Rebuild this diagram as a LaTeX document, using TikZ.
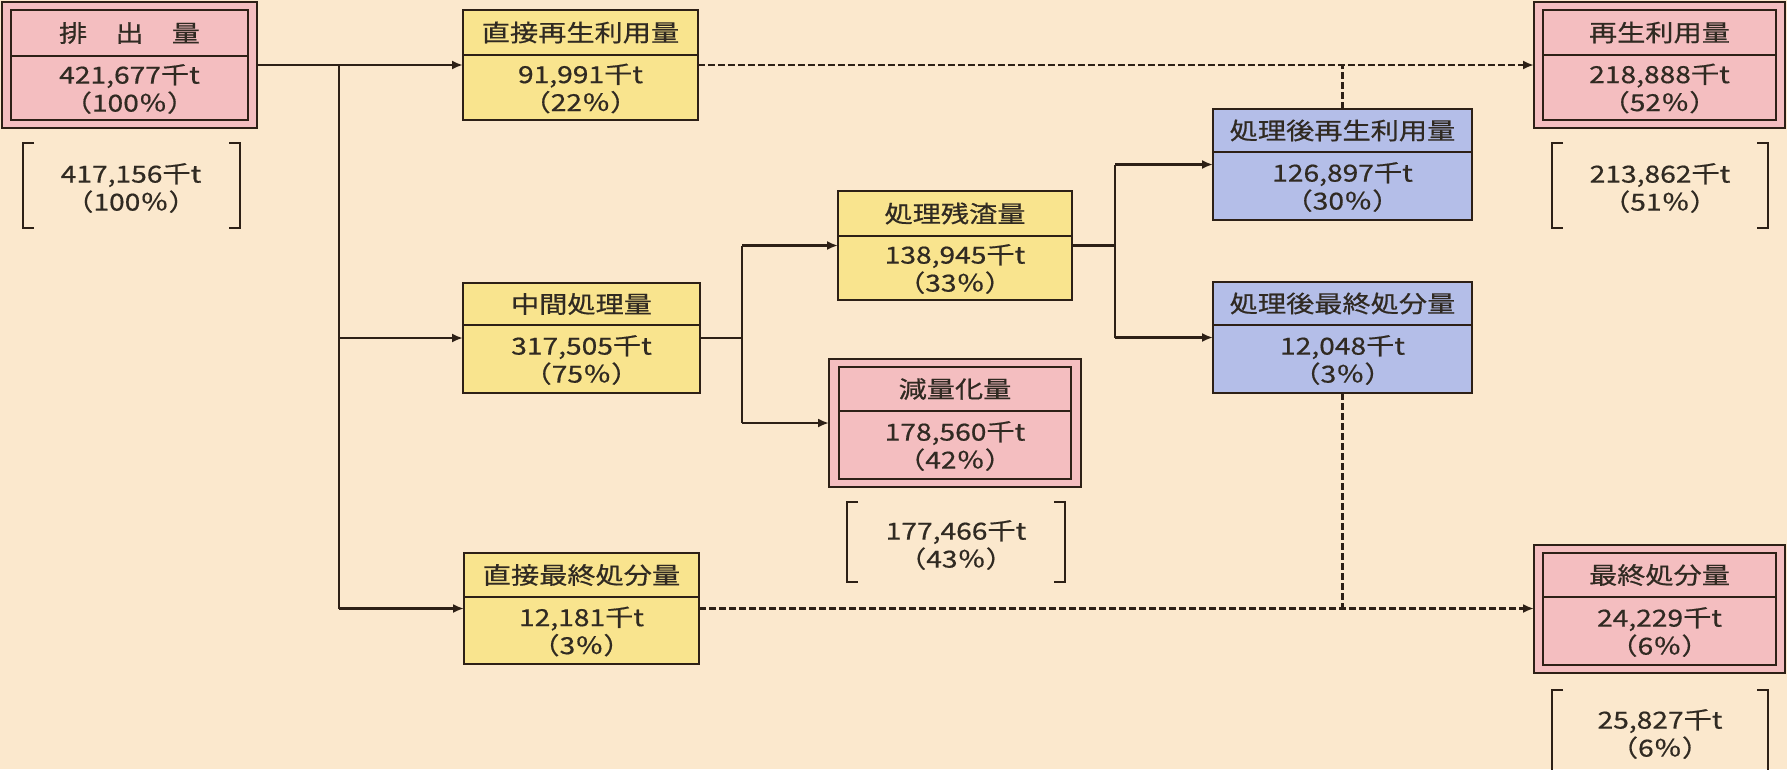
\documentclass[tikz,border=0pt]{standalone}
\usepackage{fontspec}
\setmainfont{Noto Sans CJK JP}[FakeStretch=1.2,FakeBold=0.6]
\usetikzlibrary{arrows.meta}
\definecolor{bgc}{RGB}{251,232,205}
\definecolor{yelc}{RGB}{249,228,142}
\definecolor{pinkc}{RGB}{244,190,192}
\definecolor{bluec}{RGB}{180,190,232}
\definecolor{linec}{RGB}{45,32,22}
\definecolor{txtc}{RGB}{48,42,34}
\tikzset{
  boxline/.style={draw=linec, line width=2.3pt},
  ybox/.style={boxline, fill=yelc},
  pbox/.style={boxline, fill=pinkc},
  bbox/.style={boxline, fill=bluec},
  conn/.style={draw=linec, line width=2.3pt},
  arr/.style={conn, -{Latex[length=11pt,width=9pt]}},
  dconn/.style={draw=linec, line width=2.3pt, dash pattern=on 7pt off 3pt},
  darr/.style={dconn, -{Latex[length=11pt,width=9pt]}},
  brk/.style={draw=linec, line width=2.3pt},
  txt/.style={text=txtc, font=\fontsize{23.5}{28}\selectfont, inner sep=0pt, align=center},
}
\newcommand{\FlowBox}[9]{%
  \node[#2, minimum width={#5-#3}, minimum height={#6-#4}, inner sep=0pt, outer sep=0pt] (#1) at ({(#3+#5)/2},{(#4+#6)/2}) {};
  \draw[boxline] (#3,#7) -- (#5,#7);
  \node[txt] (#1-t) at ({(#3+#5)/2},{(#4+#7)/2}) {#8};
  \node[txt] (#1-n) at ({(#3+#5)/2},{(#7+#6)/2+1}) {#9};
}
\begin{document}
\begin{tikzpicture}[x=1pt,y=-1pt]
\fill[bgc] (0,0) rectangle (1787,769);
\useasboundingbox (0,0) rectangle (1787,769);

% outer frames of double boxes
\node[pbox, minimum width=255, minimum height=126, inner sep=0pt, outer sep=0pt] (emis) at (129.5,65) {};
\node[pbox, minimum width=252, minimum height=128, inner sep=0pt, outer sep=0pt] (red) at (955,423) {};
\node[pbox, minimum width=251, minimum height=126, inner sep=0pt, outer sep=0pt] (rec) at (1659.5,65) {};
\node[pbox, minimum width=251, minimum height=128, inner sep=0pt, outer sep=0pt] (fin) at (1659.5,609) {};

\FlowBox{emisin}{pbox}{11}{10}{248}{120}{56}{排　出　量}{421,677千t\\（100％）}
\FlowBox{drec}{ybox}{463}{10}{698}{120}{55}{直接再生利用量}{91,991千t\\（22％）}
\FlowBox{mid}{ybox}{463}{283}{700}{393}{325}{中間処理量}{317,505千t\\（75％）}
\FlowBox{dfin}{ybox}{464}{553}{699}{664}{597}{直接最終処分量}{12,181千t\\（3％）}
\FlowBox{resid}{ybox}{838}{191}{1072}{300}{236}{処理残渣量}{138,945千t\\（33％）}
\FlowBox{redin}{pbox}{839}{367}{1071}{479}{411}{減量化量}{178,560千t\\（42％）}
\FlowBox{prec}{bbox}{1213}{109}{1472}{220}{152}{処理後再生利用量}{126,897千t\\（30％）}
\FlowBox{pfin}{bbox}{1213}{282}{1472}{393}{325}{処理後最終処分量}{12,048千t\\（3％）}
\FlowBox{recin}{pbox}{1543}{10}{1776}{120}{55}{再生利用量}{218,888千t\\（52％）}
\FlowBox{finin}{pbox}{1543}{553}{1776}{665}{597}{最終処分量}{24,229千t\\（6％）}

% brackets with previous-year values
\draw[brk] (34,143) -- (23,143) -- (23,228) -- (34,228);
\draw[brk] (229,143) -- (240,143) -- (240,228) -- (229,228);
\node[txt] (emisb) at (131,188) {417,156千t\\（100％）};

\draw[brk] (858,502) -- (847,502) -- (847,582) -- (858,582);
\draw[brk] (1054,502) -- (1065,502) -- (1065,582) -- (1054,582);
\node[txt] (redb) at (956,545) {177,466千t\\（43％）};

\draw[brk] (1563,143) -- (1552,143) -- (1552,228) -- (1563,228);
\draw[brk] (1757,143) -- (1768,143) -- (1768,228) -- (1757,228);
\node[txt] (recb) at (1660,188) {213,862千t\\（51％）};

\draw[brk] (1563,690) -- (1552,690) -- (1552,790);
\draw[brk] (1757,690) -- (1768,690) -- (1768,790);
\node[txt] (finb) at (1660,734) {25,827千t\\（6％）};

% connectors
\coordinate (j1) at (339,65);
\coordinate (j2) at (339,608.5);
\draw[arr] (emis) -- (drec);
\draw[conn] (j1) -- (j2);
\draw[arr] (j1 |- mid.west) -- (mid.west);
\draw[arr] (j2) -- (dfin.west);

\coordinate (k1) at (742,245.5);
\coordinate (k2) at (742,423);
\draw[conn] (mid.east) -- (k1 |- mid.east);
\draw[conn] (k1) -- (k2);
\draw[arr] (k1) -- (resid.west);
\draw[arr] (k2) -- (red.west);

\coordinate (m1) at (1115,164.5);
\coordinate (m2) at (1115,337.5);
\draw[conn] (resid.east) -- (m1 |- resid.east);
\draw[conn] (m1) -- (m2);
\draw[arr] (m1) -- (prec.west);
\draw[arr] (m2) -- (pfin.west);

\draw[darr] (drec) -- (rec);
\draw[dconn] (prec.north) -- (prec.north |- rec.west);
\draw[darr] (dfin.east) -- (fin.west |- dfin.east);
\draw[dconn] (pfin.south) -- (pfin.south |- dfin.east);
\end{tikzpicture}
\end{document}
